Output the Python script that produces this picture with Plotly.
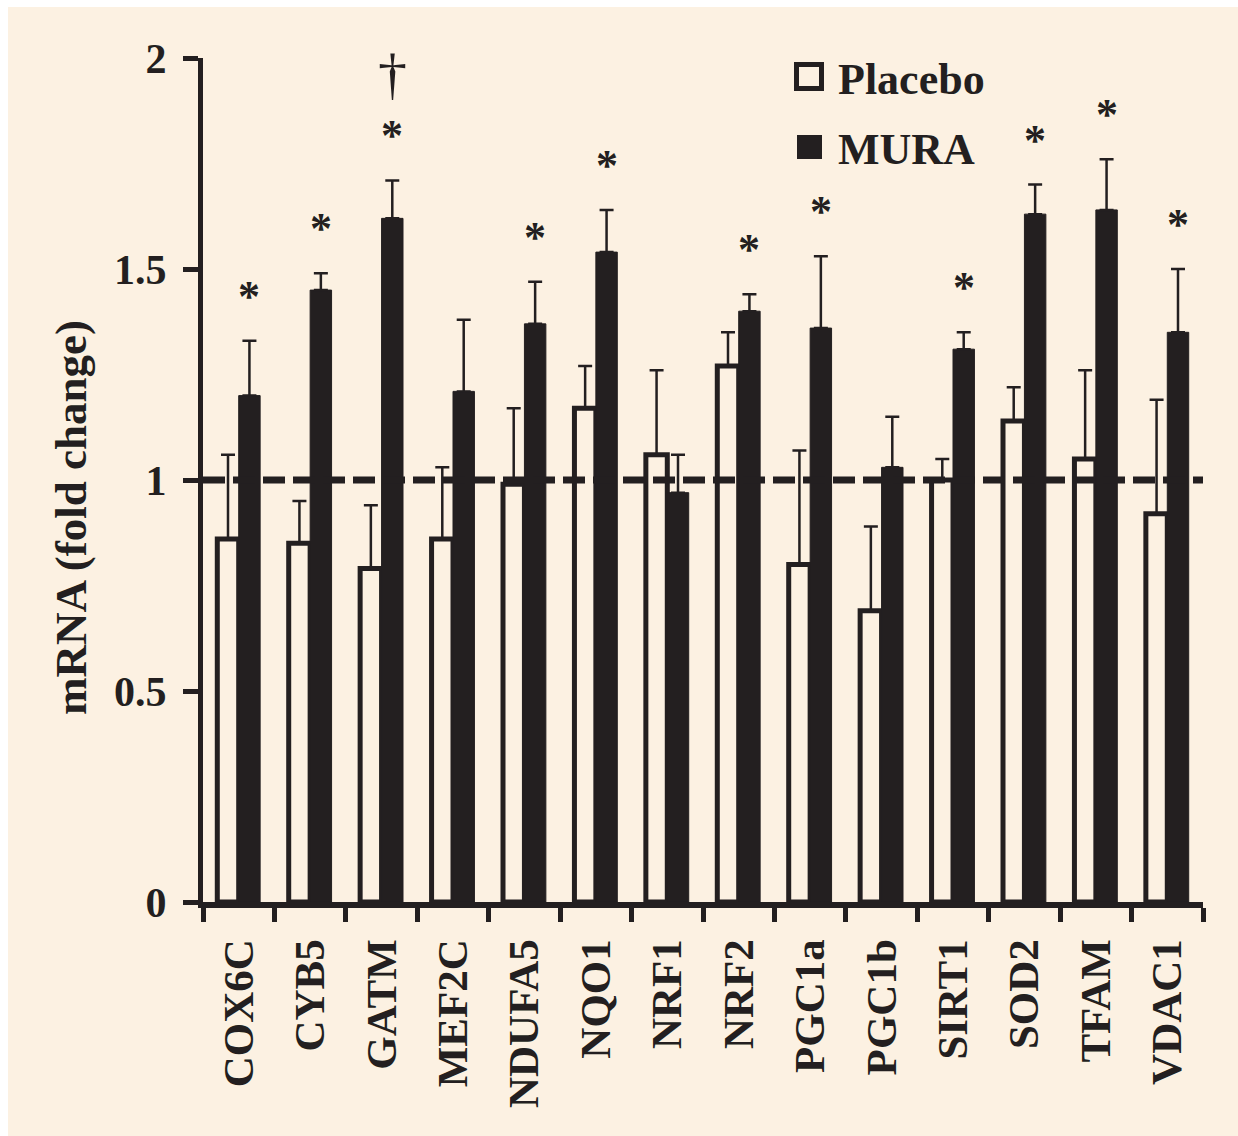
import plotly.graph_objects as go

# Gene expression (fold change vs baseline), mean and SEM per group
genes = ["COX6C", "CYB5", "GATM", "MEF2C", "NDUFA5", "NQO1", "NRF1",
         "NRF2", "PGC1a", "PGC1b", "SIRT1", "SOD2", "TFAM", "VDAC1"]
placebo = [0.86, 0.85, 0.79, 0.86, 0.99, 1.17, 1.06, 1.27, 0.80, 0.69, 1.00, 1.14, 1.05, 0.92]
placebo_sem = [0.20, 0.10, 0.15, 0.17, 0.18, 0.10, 0.20, 0.08, 0.27, 0.20, 0.05, 0.08, 0.21, 0.27]
mura = [1.20, 1.45, 1.62, 1.21, 1.37, 1.54, 0.97, 1.40, 1.36, 1.03, 1.31, 1.63, 1.64, 1.35]
mura_sem = [0.13, 0.04, 0.09, 0.17, 0.10, 0.10, 0.09, 0.04, 0.17, 0.12, 0.04, 0.07, 0.12, 0.15]
star_marks = ["*", "*", "*", "", "*", "*", "", "*", "*", "", "*", "*", "*", "*"]
dagger_marks = ["", "", "†", "", "", "", "", "", "", "", "", "", "", ""]
y_ticks = [0, 0.5, 1, 1.5, 2]
y_ticktext = ["0", "0.5", "1", "1.5", "2"]

INK = "#231f20"
CREAM = "#fcf1e2"
SERIF = "Liberation Serif"

W, H = 1238, 1136
ML, MR, MT, MB = 203, 35, 58, 234
PW, PH = W - ML - MR, H - MT - MB


def px_x(px):
    return (px - ML) / PW


def px_y(py):
    return (H - MB - py) / PH


fig = go.Figure()

fig.add_trace(go.Bar(
    x=genes, y=placebo, name="Placebo",
    marker=dict(color=CREAM, line=dict(color=INK, width=5)),
    error_y=dict(type="data", array=placebo_sem, arrayminus=[0] * len(genes),
                 symmetric=False, color=INK, thickness=2.5, width=7),
))
fig.add_trace(go.Bar(
    x=genes, y=mura, name="MURA",
    marker=dict(color=INK, line=dict(color=INK, width=1)),
    error_y=dict(type="data", array=mura_sem, arrayminus=[0] * len(genes),
                 symmetric=False, color=INK, thickness=2.5, width=7),
))

# reference line at fold change = 1
fig.add_shape(type="line", xref="paper", yref="y", x0=0, x1=1, y0=1, y1=1,
              line=dict(color=INK, width=7, dash="22px,8px"), layer="above")

annotations = []
# significance marks above the MURA bars
for i, g in enumerate(genes):
    top = mura[i] + mura_sem[i]
    if star_marks[i]:
        annotations.append(dict(
            x=i + 0.15, y=top, xref="x", yref="y", text=star_marks[i],
            showarrow=False, yanchor="bottom", yshift=18,
            font=dict(family=SERIF, size=44, color=INK, weight="bold")))
    if dagger_marks[i]:
        annotations.append(dict(
            x=i + 0.15, y=top, xref="x", yref="y", text=dagger_marks[i],
            showarrow=False, yanchor="bottom", yshift=72,
            font=dict(family=SERIF, size=58, color=INK)))

# y-axis title
annotations.append(dict(
    x=px_x(71), y=px_y(518), xref="paper", yref="paper", text="mRNA (fold change)",
    textangle=-90, showarrow=False, xanchor="center", yanchor="middle",
    font=dict(family=SERIF, size=45, color=INK, weight="bold")))

# legend
legend_items = [("Placebo", 79.5), ("MURA", 149)]
for label, cy in legend_items:
    annotations.append(dict(
        x=px_x(836), y=px_y(cy), xref="paper", yref="paper", text=label,
        showarrow=False, xanchor="left", yanchor="middle",
        font=dict(family=SERIF, size=44, color=INK, weight="bold")))

fig.add_shape(type="rect", xref="paper", yref="paper",
              x0=px_x(796.5), x1=px_x(821.5), y0=px_y(64.5), y1=px_y(88.5),
              line=dict(color=INK, width=5), fillcolor=CREAM)
fig.add_shape(type="rect", xref="paper", yref="paper",
              x0=px_x(797), x1=px_x(822), y0=px_y(135), y1=px_y(159),
              line=dict(color=INK, width=0), fillcolor=INK)

# white frame strips at the top and left edges
fig.add_shape(type="rect", xref="paper", yref="paper",
              x0=px_x(0), x1=px_x(8), y0=px_y(H), y1=px_y(0),
              line=dict(width=0), fillcolor="white", layer="below")
fig.add_shape(type="rect", xref="paper", yref="paper",
              x0=px_x(0), x1=px_x(W), y0=px_y(7), y1=px_y(0),
              line=dict(width=0), fillcolor="white", layer="below")

fig.update_layout(
    width=W, height=H,
    margin=dict(l=ML, r=MR, t=MT, b=MB, autoexpand=False),
    paper_bgcolor=CREAM, plot_bgcolor=CREAM,
    barmode="group", bargap=0.4, bargroupgap=0,
    showlegend=False,
    annotations=annotations,
    font=dict(family=SERIF, color=INK),
)
fig.update_xaxes(
    type="category", showline=True, linecolor=INK, linewidth=6,
    ticks="outside", tickson="boundaries", ticklen=14, tickwidth=5, tickcolor=INK,
    tickangle=-90, ticklabelstandoff=14, showgrid=False, zeroline=False,
    tickfont=dict(family=SERIF, size=43, color=INK, weight="bold"),
    automargin=False,
)
fig.update_yaxes(
    range=[0, 2], tickvals=y_ticks, ticktext=y_ticktext,
    showline=True, linecolor=INK, linewidth=5,
    ticks="outside", ticklen=15, tickwidth=5, tickcolor=INK, ticklabelstandoff=8,
    showgrid=False, zeroline=False,
    tickfont=dict(family=SERIF, size=42, color=INK, weight="bold"),
    automargin=False,
)

fig.write_html("out.html")
